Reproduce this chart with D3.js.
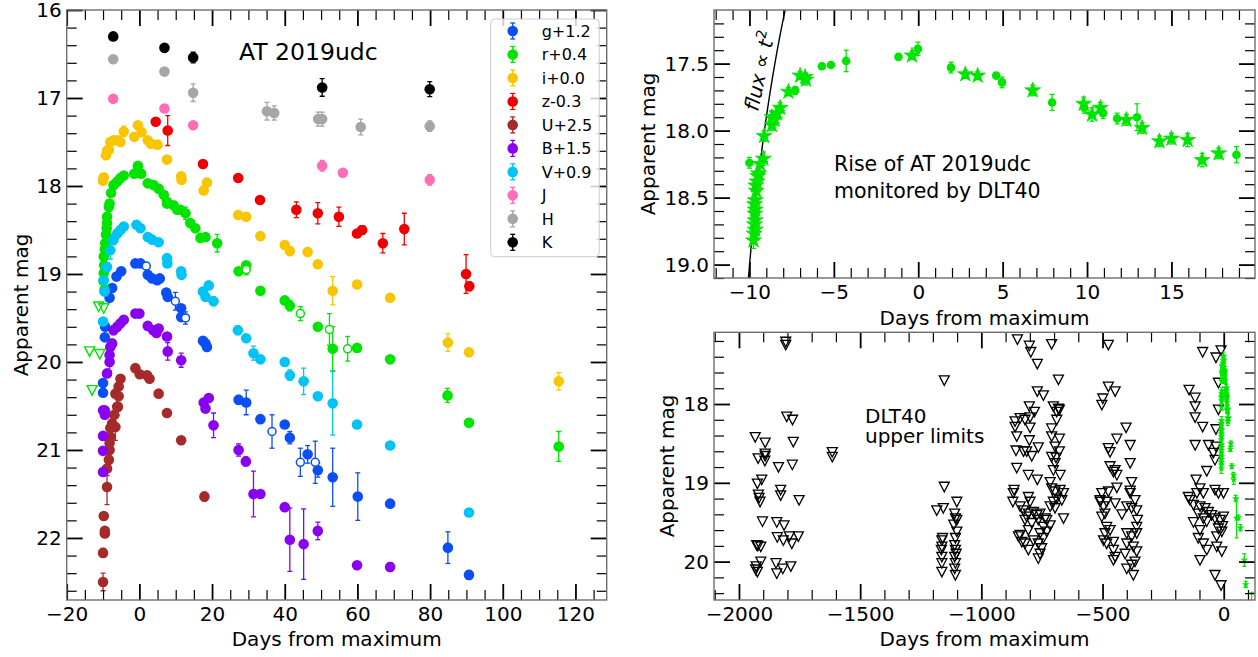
<!DOCTYPE html>
<html>
<head>
<meta charset="utf-8">
<script src="https://cdn.jsdelivr.net/npm/d3@7"></script>
<style>
  body { margin: 0; background: #fff; }
  text { font-family: "DejaVu Sans", sans-serif; }
</style>
</head>
<body>
<svg id="chart" width="1258" height="657"></svg>
<script>
// ---- data: [day, mag, err] ----
let gBand = [[-10.0,20.35,0.04],[-10.0,20.24,0.04],[-9.5,19.72,0.03],[-9.4,19.60,0.03],[-8.2,19.27,0.03],[-7.5,19.16,0.03],
  [-6.3,19.03,0.03],[-5.0,18.97,0.03],[-1.1,18.88,0.04],[0.3,18.88,0.03],[2.3,19.01,0.03],[3.5,19.05,0.03],[4.9,19.07,0.03],
  [5.6,19.05,0.03],[7.4,19.21,0.03],[7.8,19.26,0.03],[11.5,19.39,0.03],[11.5,19.49,0.04],[17.5,19.76,0.03],[18.2,19.79,0.03],
  [18.6,19.83,0.03],[27.3,20.43,0.05],[29.4,20.46,0.14],[33.3,20.65,0.03],[40.0,20.71,0.04],[41.4,20.86,0.07],[46.3,21.05,0.1],
  [49.1,21.23,0.08],[53.2,21.31,0.33],[60.1,21.53,0.27],[69.0,21.61,0.04],[84.9,22.11,0.18],[90.7,22.42,0.05]];
let gOpen = [[1.9,18.91,0.03],[9.9,19.31,0.1],[12.7,19.50,0.07],[36.5,20.79,0.19],[44.3,21.14,0.16],[48.4,21.14,0.24]];

let rBand = [[-9.6,19.18,0.03],[-9.9,19.08,0.03],[-9.8,18.99,0.03],[-9.7,18.90,0.03],[-9.8,18.80,0.03],[-9.5,18.72,0.03],
  [-9.4,18.65,0.03],[-9.2,18.55,0.03],[-9.0,18.48,0.03],[-8.9,18.42,0.03],[-8.9,18.35,0.03],[-8.4,18.24,0.03],[-8.2,18.20,0.03],
  [-7.8,18.08,0.03],[-7.1,17.99,0.03],[-6.1,17.95,0.03],[-5.2,17.91,0.03],[-4.3,17.88,0.03],[-1.4,17.86,0.03],[-0.4,17.77,0.03],
  [0.5,17.86,0.03],[2.3,17.97,0.03],[3.9,17.99,0.03],[5.3,18.03,0.03],[6.7,18.10,0.03],[7.6,18.18,0.03],[7.6,18.20,0.03],
  [9.4,18.22,0.03],[10.4,18.27,0.03],[11.3,18.27,0.03],[12.7,18.31,0.07],[14.0,18.42,0.03],[15.4,18.48,0.03],[16.8,18.59,0.03],
  [18.2,18.58,0.03],[21.4,18.65,0.1],[27.3,18.97,0.03],[29.4,18.90,0.03],[33.3,19.19,0.03],[40.0,19.30,0.03],[41.4,19.36,0.06],
  [49.1,19.60,0.04],[53.2,19.85,0.25],[59.9,19.84,0.03],[69.0,19.97,0.04],[84.8,20.38,0.08],[90.7,20.69,0.04],[115.4,20.96,0.17]];
let rOpen = [[29.4,18.95,0.06],[44.3,19.45,0.08],[52.3,19.63,0.18],[57.3,19.85,0.14]];
let rLimits = [[-11.2,19.37],[-9.8,19.39],[-13.7,19.88],[-10.9,19.91],[-13.0,20.32]];

let iBand = [[-10.0,17.94,0.03],[-9.8,17.90,0.03],[-9.2,17.65,0.03],[-8.9,17.60,0.03],[-8.4,17.59,0.03],[-8.0,17.50,0.03],
  [-7.1,17.48,0.03],[-6.0,17.48,0.03],[-5.2,17.50,0.03],[-4.3,17.38,0.06],[-1.4,17.44,0.03],[-0.4,17.31,0.03],[0.6,17.39,0.03],
  [2.3,17.48,0.03],[3.2,17.52,0.03],[5.0,17.53,0.03],[7.6,17.70,0.03],[11.5,17.89,0.03],[11.6,17.93,0.03],[17.7,18.05,0.03],
  [18.6,17.96,0.03],[27.2,18.33,0.03],[29.4,18.35,0.03],[33.3,18.57,0.03],[40.0,18.67,0.03],[41.4,18.74,0.05],[46.3,18.75,0.05],
  [49.1,18.89,0.04],[53.2,19.19,0.16],[59.9,19.12,0.03],[69.0,19.27,0.04],[84.9,19.78,0.1],[90.7,19.89,0.03],[115.4,20.22,0.1]];

let zBand = [[4.5,17.27,0.03],[7.8,17.37,0.17],[17.5,17.75,0.03],[27.2,17.91,0.02],[33.2,18.16,0.02],[43.2,18.27,0.09],
  [49.1,18.31,0.12],[54.9,18.35,0.11],[59.9,18.54,0.03],[61.3,18.50,0.05],[67.0,18.65,0.11],[72.9,18.49,0.18],[89.9,19.00,0.22],
  [90.8,19.14,0.05]];

let uBand = [[-10.0,22.50,0.1],[-10.0,22.17,0.05],[-9.5,21.95,0.04],[-9.5,21.92,0.04],[-9.8,21.75,0.03],[-8.9,21.42,0.2],
  [-8.9,21.21,0.08],[-8.4,21.11,0.05],[-8.2,21.00,0.05],[-8.2,20.92,0.05],[-8.0,20.85,0.05],[-8.0,20.75,0.05],[-7.5,20.70,0.05],
  [-6.9,20.60,0.1],[-6.6,20.74,0.15],[-5.9,20.51,0.05],[-5.2,20.19,0.03],[-5.7,20.28,0.03],[-6.6,20.36,0.03],[-5.7,20.39,0.03],
  [-6.1,20.51,0.1],[-1.1,20.07,0.03],[0.1,20.14,0.03],[2.1,20.15,0.03],[2.8,20.19,0.03],[5.3,20.36,0.03],[7.6,20.58,0.03],
  [11.5,20.89,0.03],[17.9,21.53,0.05]];

let bBand = [[-10.0,21.25,0.04],[-10.0,21.01,0.04],[-10.0,20.84,0.04],[-9.5,20.60,0.04],[-10.0,20.55,0.04],[-9.5,20.55,0.04],
  [-8.9,20.13,0.03],[-8.2,20.00,0.1],[-8.2,19.92,0.1],[-8.0,19.83,0.08],[-7.5,19.79,0.05],[-7.1,19.64,0.05],[-6.1,19.60,0.05],
  [-5.2,19.56,0.03],[-4.3,19.52,0.03],[-1.1,19.45,0.03],[0.0,19.45,0.03],[2.3,19.59,0.03],[3.8,19.64,0.03],[4.7,19.67,0.03],
  [5.3,19.62,0.03],[7.6,19.71,0.03],[7.8,19.88,0.1],[11.5,19.98,0.08],[17.7,20.46,0.03],[18.2,20.53,0.03],[19.1,20.41,0.03],
  [20.4,20.72,0.14],[27.3,21.00,0.07],[29.3,21.13,0.05],[31.4,21.50,0.26],[33.3,21.50,0.03],[40.0,21.65,0.04],[41.4,22.02,0.36],
  [45.2,22.07,0.4],[49.1,21.92,0.1],[59.9,22.31,0.03],[69.0,22.33,0.05]];

let vBand = [[-10.0,19.54,0.03],[-9.8,19.07,0.03],[-9.6,19.20,0.03],[-8.9,18.92,0.05],[-8.0,18.73,0.1],[-7.1,18.61,0.06],
  [-6.1,18.54,0.05],[-5.2,18.50,0.04],[-4.3,18.46,0.04],[-0.8,18.44,0.03],[0.3,18.48,0.03],[2.3,18.58,0.03],[3.5,18.61,0.03],
  [5.3,18.64,0.03],[7.6,18.82,0.03],[7.7,18.88,0.03],[11.5,18.97,0.03],[11.6,19.01,0.03],[17.5,19.20,0.03],[18.2,19.26,0.03],
  [19.1,19.13,0.03],[20.4,19.31,0.05],[27.1,19.64,0.05],[29.4,19.73,0.03],[31.4,19.90,0.08],[33.3,19.97,0.03],[40.0,20.00,0.03],
  [41.4,20.15,0.06],[45.2,20.22,0.15],[49.1,20.39,0.04],[53.2,20.47,0.36],[59.9,20.71,0.03],[69.0,20.95,0.04],[90.7,21.71,0.04]];

let jBand = [[-7.2,17.01,0.02],[6.9,17.12,0.04],[14.8,17.31,0.04],[50.3,17.77,0.06],[56.0,17.85,0.02],[79.9,17.93,0.06]];
let hBand = [[-7.2,16.56,0.03],[6.9,16.70,0.04],[14.8,16.94,0.1],[35.1,17.15,0.1],[37.1,17.17,0.08],[49.2,17.24,0.08],
  [50.3,17.24,0.08],[60.9,17.33,0.09],[79.9,17.32,0.06]];
let kBand = [[-7.2,16.30,0.02],[6.9,16.43,0.045],[14.8,16.54,0.06],[50.3,16.88,0.1],[79.9,16.90,0.085]];

let bandNames = ["g+1.2","r+0.4","i+0.0","z-0.3","U+2.5","B+1.5","V+0.9","J","H","K"];
let bandColors = ["#0b4ef5","#00e400","#f7c600","#ee0000","#a52a2a","#8a00f0","#00c4f5","#ff6eb4","#a6a6a6","#000000"];
let bandData = [gBand, rBand, iBand, zBand, uBand, bBand, vBand, jBand, hBand, kBand];

// DLT40 rise (top right)
let dltCircles = [[-10.0,18.24,0.04],[-7.29,17.70,0.03],[-5.71,17.52,0.02],[-5.17,17.51,0.02],[-4.27,17.48,0.08],
  [-1.17,17.45,0.02],[-0.02,17.39,0.05],[1.94,17.53,0.04],[4.62,17.59,0.02],[4.96,17.64,0.04],[7.93,17.79,0.06],
  [9.84,17.83,0.04],[10.95,17.87,0.04],[11.78,17.91,0.04],[12.96,17.90,0.1],[18.85,18.18,0.06]];
let dltStars = [[-9.76,18.82,0.06],[-9.72,18.77,0.05],[-9.66,18.74,0.05],[-9.7,18.70,0.05],[-9.66,18.67,0.05],
  [-9.68,18.62,0.05],[-9.66,18.59,0.05],[-9.7,18.55,0.05],[-9.66,18.52,0.05],[-9.6,18.45,0.05],[-9.62,18.41,0.05],
  [-9.56,18.38,0.05],[-9.5,18.34,0.05],[-9.46,18.32,0.05],[-9.37,18.25,0.05],[-9.17,18.21,0.05],[-9.13,18.04,0.04],
  [-8.67,17.96,0.04],[-8.67,17.90,0.04],[-8.5,17.92,0.04],[-8.37,17.87,0.04],[-8.18,17.83,0.04],[-7.69,17.71,0.03],
  [-7.0,17.59,0.03],[-6.7,17.60,0.03],[-6.66,17.62,0.04],[-0.37,17.44,0.03],[2.79,17.58,0.03],[3.52,17.59,0.03],
  [6.78,17.70,0.04],[9.8,17.80,0.05],[10.3,17.88,0.05],[10.79,17.83,0.04],[12.33,17.92,0.04],[13.26,17.98,0.04],
  [14.29,18.08,0.04],[15.0,18.06,0.04],[15.96,18.07,0.05],[16.82,18.22,0.05],[17.80,18.17,0.04]];

// flux ~ t^2 model: mag = FIT_M0 - 5 log10(t - FIT_T0)
let FIT_T0 = -11.5;
let FIT_M0 = 19.89;
let R_OFFSET = 0.4;

// DLT40 upper limits (bottom right): [day, mag]
let dltLimits = [
  [-1807,17.21],[-1807,17.25],[-1803,18.16],[-1779,18.20],[-1933,18.42],[-1892,18.49],[-1776,18.48],[-1892,18.63],
  [-1892,18.66],[-1921,18.69],[-1893,18.72],[-1837,18.80],[-1780,18.77],[-1906,18.96],[-1924,19.01],[-1828,19.09],
  [-1828,19.16],[-1920,19.15],[-1913,19.24],[-1917,19.19],[-1752,19.22],[-1903,19.49],[-1844,19.50],[-1814,19.54],
  [-1842,19.69],[-1817,19.73],[-1792,19.68],[-1782,19.77],[-1755,19.68],[-1927,19.79],[-1910,19.81],[-1922,19.80],
  [-1910,20.0],[-1929,20.06],[-1924,20.13],[-1847,20.02],[-1844,20.15],[-1819,20.09],[-1786,20.06],[-1931,20.10],
  [-1615,18.61],[-1615,18.67],
  [-1153,17.70],[-1153,19.05],[-1184,19.35],[-1157,19.32],[-1163,19.73],[-1163,19.81],[-1163,19.94],[-1163,20.02],
  [-1163,20.13],[-1160,19.70],[-1165,19.85],[-1101,19.24],[-1110,19.39],[-1107,19.45],[-1101,19.47],[-1101,19.62],
  [-1107,19.70],[-1110,19.79],[-1107,19.85],[-1110,19.94],[-1107,20.02],[-1110,20.09],[-1107,20.17],[-1114,19.53],[-1104,19.90],
  [-851,17.18],[-802,17.26],[-796,17.34],[-710,17.24],[-769,17.49],[-682,17.69],[-769,17.84],[-744,17.89],[-802,18.03],
  [-781,18.10],[-703,18.03],[-682,18.06],[-689,18.10],[-678,18.07],[-861,18.22],[-840,18.18],[-820,18.20],[-799,18.17],
  [-861,18.29],[-799,18.30],[-710,18.31],[-689,18.20],[-854,18.41],[-678,18.44],[-802,18.46],[-710,18.41],[-765,18.55],
  [-857,18.59],[-826,18.60],[-792,18.66],[-813,18.60],[-696,18.54],[-678,18.60],[-692,18.68],[-710,18.67],[-696,18.75],
  [-703,18.84],[-675,18.90],[-854,18.81],[-806,18.90],[-769,18.96],[-865,19.09],[-868,19.13],[-806,19.18],[-799,19.24],
  [-870,19.24],[-840,19.30],[-826,19.35],[-813,19.43],[-820,19.47],[-806,19.39],[-785,19.37],[-771,19.41],[-758,19.39],
  [-765,19.47],[-792,19.51],[-716,18.99],[-710,19.07],[-696,19.11],[-675,19.09],[-661,19.13],[-689,19.20],[-668,19.22],
  [-703,19.24],[-716,19.30],[-696,19.32],[-737,19.45],[-716,19.54],[-730,19.47],[-847,19.68],[-833,19.75],[-820,19.77],
  [-806,19.85],[-785,19.73],[-765,19.77],[-751,19.83],[-758,19.90],[-765,19.96],[-806,19.60],[-758,19.64],[-744,19.70],
  [-661,19.45],[-730,19.62],[-744,19.56],[-840,19.66],
  [-476,17.25],[-476,17.78],[-448,17.84],[-499,17.93],[-503,18.01],[-403,18.30],[-441,18.44],[-386,18.52],[-476,18.56],
  [-469,18.61],[-386,18.75],[-469,18.79],[-455,18.86],[-441,18.90],[-448,18.84],[-380,18.99],[-441,19.06],[-386,19.10],
  [-503,19.13],[-476,19.11],[-510,19.22],[-483,19.24],[-448,19.26],[-386,19.13],[-366,19.22],[-359,19.35],[-400,19.30],
  [-380,19.32],[-496,19.30],[-490,19.39],[-503,19.43],[-510,19.24],[-483,19.56],[-490,19.64],[-469,19.60],[-496,19.73],
  [-483,19.77],[-455,19.75],[-455,19.85],[-448,19.94],[-455,19.98],[-400,19.64],[-380,19.68],[-359,19.64],[-400,19.77],
  [-373,19.81],[-359,19.87],[-407,19.90],[-366,20.0],[-380,20.04],[-400,20.09],[-373,20.17],[-359,19.56],[-356,19.47],[-420,19.40],
  [-87,17.34],[-32,17.41],[-11,17.32],[-22,17.73],[-143,17.82],[-118,17.92],[-118,18.03],[-22,18.07],[-118,18.17],
  [-87,18.29],[-32,18.32],[-118,18.52],[-63,18.52],[-32,18.54],[-43,18.62],[-36,18.71],[-70,18.85],[-114,18.96],
  [-98,19.07],[-84,19.13],[-146,19.18],[-111,19.13],[-36,19.09],[-22,19.13],[-1,19.13],[-139,19.22],[-125,19.28],
  [-98,19.30],[-77,19.32],[-63,19.37],[-105,19.39],[-84,19.45],[-70,19.49],[-50,19.41],[-36,19.45],[-15,19.47],
  [-1,19.43],[-22,19.58],[-8,19.62],[-29,19.68],[-98,19.60],[-105,19.70],[-84,19.77],[-70,19.85],[-29,19.81],
  [-8,19.87],[-98,19.98],[-36,20.17],[-11,20.30],[-125,19.50],[-5,19.55]];

// ---- layout ----
let svg = d3.select("#chart");
svg.append("rect").attr("width", 1258).attr("height", 657).attr("fill", "#fff");

let xLeft = d3.scaleLinear().domain([-20, 128.6]).range([66.7, 606.7]);
let yLeft = d3.scaleLinear().domain([16, 22.705]).range([10, 600]);
let xRise = d3.scaleLinear().domain([-12.1, 19.95]).range([714, 1255]);
let yRise = d3.scaleLinear().domain([17.1, 19.1]).range([10, 278]);
let xLim = d3.scaleLinear().domain([-2103, 129]).range([714, 1255]);
let yLim = d3.scaleLinear().domain([17.09, 20.487]).range([332.3, 600]);

let clipId = 0;
let makeClip = (x, y) => {
  let id = "clip" + (clipId++);
  svg.append("clipPath").attr("id", id).append("rect")
    .attr("x", x.range()[0]).attr("y", y.range()[0])
    .attr("width", x.range()[1] - x.range()[0]).attr("height", y.range()[1] - y.range()[0]);
  return svg.append("g").attr("clip-path", `url(#${id})`);
};

let drawAxes = (x, y, xt, yt, fmtX, fmtY) => {
  let [l, r] = x.range();
  let [t, b] = y.range();
  let g = svg.append("g");
  let add = (axis, tr, w) => {
    let a = g.append("g").attr("transform", tr).call(axis);
    a.select(".domain").remove();
    a.selectAll(".tick line").attr("stroke", "#000").attr("stroke-width", w);
    a.selectAll("text").attr("font-size", 20).attr("font-family", "DejaVu Sans").attr("fill", "#000");
    return a;
  };
  let minorX = xt.minor.filter(v => !xt.major.includes(v));
  let minorY = yt.minor.filter(v => !yt.major.includes(v));
  add(d3.axisBottom(x).tickValues(xt.major).tickSize(-16).tickPadding(7).tickFormat(fmtX), `translate(0,${b})`, 1.8);
  add(d3.axisBottom(x).tickValues(minorX).tickSize(-10).tickFormat(""), `translate(0,${b})`, 1.2);
  add(d3.axisTop(x).tickValues(xt.major).tickSize(-16).tickFormat(""), `translate(0,${t})`, 1.8);
  add(d3.axisTop(x).tickValues(minorX).tickSize(-10).tickFormat(""), `translate(0,${t})`, 1.2);
  add(d3.axisLeft(y).tickValues(yt.major).tickSize(-16).tickPadding(5).tickFormat(fmtY), `translate(${l},0)`, 1.8);
  add(d3.axisLeft(y).tickValues(minorY).tickSize(-10).tickFormat(""), `translate(${l},0)`, 1.2);
  add(d3.axisRight(y).tickValues(yt.major).tickSize(-16).tickFormat(""), `translate(${r},0)`, 1.8);
  add(d3.axisRight(y).tickValues(minorY).tickSize(-10).tickFormat(""), `translate(${r},0)`, 1.2);
  g.append("rect").attr("x", l).attr("y", t).attr("width", r - l).attr("height", b - t)
    .attr("fill", "none").attr("stroke", "#6e6e6e").attr("stroke-width", 1.4);
};

let drawErr = (g, data, x, y, color, cap, w) => {
  let e = data.filter(d => d[2] > 0);
  g.selectAll(null).data(e).enter().append("line")
    .attr("x1", d => x(d[0])).attr("x2", d => x(d[0]))
    .attr("y1", d => y(d[1] - d[2])).attr("y2", d => y(d[1] + d[2]))
    .attr("stroke", color).attr("stroke-width", w);
  [-1, 1].forEach(s => {
    g.selectAll(null).data(e).enter().append("line")
      .attr("x1", d => x(d[0]) - cap).attr("x2", d => x(d[0]) + cap)
      .attr("y1", d => y(d[1] + s * d[2])).attr("y2", d => y(d[1] + s * d[2]))
      .attr("stroke", color).attr("stroke-width", w);
  });
};

let triPath = "M-5,-4.5L5,-4.5L0,5Z";
let fmtInt = d3.format("d");

// ---- left panel: multi-band light curve ----
let leftG = makeClip(xLeft, yLeft);
bandData.forEach((data, i) => {
  let col = bandColors[i];
  drawErr(leftG, data, xLeft, yLeft, col, 2.5, 1.3);
  leftG.selectAll(null).data(data).enter().append("circle")
    .attr("cx", d => xLeft(d[0])).attr("cy", d => yLeft(d[1])).attr("r", 5.3).attr("fill", col);
  if (i === 0 || i === 1) {
    let open = i === 0 ? gOpen : rOpen;
    drawErr(leftG, open, xLeft, yLeft, col, 2.5, 1.3);
    leftG.selectAll(null).data(open).enter().append("circle")
      .attr("cx", d => xLeft(d[0])).attr("cy", d => yLeft(d[1])).attr("r", 4)
      .attr("fill", "#fff").attr("stroke", col).attr("stroke-width", 1.5);
  }
  if (i === 1) {
    leftG.selectAll(null).data(rLimits).enter().append("path")
      .attr("d", triPath).attr("transform", d => `translate(${xLeft(d[0])},${yLeft(d[1])})`)
      .attr("fill", "none").attr("stroke", col).attr("stroke-width", 1.4);
  }
});

drawAxes(xLeft, yLeft,
  {major: d3.range(-20, 121, 20), minor: d3.range(-20, 129, 5)},
  {major: d3.range(16, 23, 1), minor: d3.range(80, 114).map(v => v / 5)},
  d3.format("d"), fmtInt);

svg.append("text").attr("x", 239).attr("y", 60).attr("font-size", 23.5).text("AT 2019udc");

// legend
let leg = svg.append("g");
leg.append("rect").attr("x", 490.7).attr("y", 19).attr("width", 108.6).attr("height", 237.7).attr("rx", 4)
  .attr("fill", "#fff").attr("fill-opacity", 0.8).attr("stroke", "#cccccc").attr("stroke-width", 1);
bandNames.forEach((name, i) => {
  let cy = 31 + i * 23.48;
  let col = bandColors[i];
  leg.append("line").attr("x1", 512.7).attr("x2", 512.7).attr("y1", cy - 8).attr("y2", cy + 8)
    .attr("stroke", col).attr("stroke-width", 1.3);
  [-8, 8].forEach(o => leg.append("line").attr("x1", 510.2).attr("x2", 515.2).attr("y1", cy + o).attr("y2", cy + o)
    .attr("stroke", col).attr("stroke-width", 1.3));
  leg.append("circle").attr("cx", 512.7).attr("cy", cy).attr("r", 5.3).attr("fill", col);
  leg.append("text").attr("x", 541.7).attr("y", cy + 5.8).attr("font-size", 16).text(name);
});

svg.append("text").attr("x", 336.7).attr("y", 646).attr("font-size", 20).attr("text-anchor", "middle").text("Days from maximum");
svg.append("text").attr("transform", "translate(28,305) rotate(-90)").attr("font-size", 20)
  .attr("text-anchor", "middle").text("Apparent mag");

// ---- top right: rise ----
let riseG = makeClip(xRise, yRise);
let fitLine = d3.line().x(d => xRise(d[0])).y(d => yRise(d[1]));
riseG.append("path")
  .attr("d", fitLine(d3.range(-10.5, -7.4, 0.02).map(t => [t, FIT_M0 - 5 * Math.log10(t - FIT_T0)])))
  .attr("fill", "none").attr("stroke", "#000").attr("stroke-width", 1.4);
let green = "#00e400";
drawErr(riseG, dltCircles, xRise, yRise, green, 2.5, 1.3);
drawErr(riseG, dltStars, xRise, yRise, green, 2.5, 1.3);
riseG.selectAll(null).data(dltCircles).enter().append("circle")
  .attr("cx", d => xRise(d[0])).attr("cy", d => yRise(d[1])).attr("r", 4.3).attr("fill", green);
let star = d3.symbol(d3.symbolStar, 78);
riseG.selectAll(null).data(dltStars).enter().append("path")
  .attr("d", star).attr("transform", d => `translate(${xRise(d[0])},${yRise(d[1])})`)
  .attr("fill", green).attr("stroke", green).attr("stroke-width", 0.8).attr("stroke-linejoin", "round");

drawAxes(xRise, yRise,
  {major: d3.range(-10, 16, 5), minor: d3.range(-12, 20, 1)},
  {major: [17.5, 18.0, 18.5, 19.0], minor: d3.range(172, 192).map(v => v / 10)},
  d3.format("d"), d3.format(".1f"));

let fluxText = svg.append("text").attr("transform", "translate(758,112) rotate(-78)").attr("font-size", 20);
fluxText.append("tspan").attr("font-style", "italic").text("flux");
fluxText.append("tspan").text(" ∝ ");
fluxText.append("tspan").attr("font-style", "italic").text("t");
fluxText.append("tspan").attr("font-size", 14).attr("dy", -8).text("2");

svg.append("text").attr("x", 834).attr("y", 171).attr("font-size", 20.5).text("Rise of AT 2019udc");
svg.append("text").attr("x", 834).attr("y", 198).attr("font-size", 20.5).text("monitored by DLT40");
svg.append("text").attr("x", 984.5).attr("y", 325).attr("font-size", 20).attr("text-anchor", "middle").text("Days from maximum");
svg.append("text").attr("transform", "translate(655,144) rotate(-90)").attr("font-size", 20)
  .attr("text-anchor", "middle").text("Apparent mag");

// ---- bottom right: upper limits ----
let limG = makeClip(xLim, yLim);
limG.selectAll(null).data(dltLimits).enter().append("path")
  .attr("d", triPath).attr("transform", d => `translate(${xLim(d[0])},${yLim(d[1])})`)
  .attr("fill", "none").attr("stroke", "#000").attr("stroke-width", 1.3);
let lateR = rBand.filter(d => d[0] > 25).map(d => [d[0], d[1] - R_OFFSET, d[2]]);
let detections = dltCircles.concat(dltStars, lateR);
drawErr(limG, detections, xLim, yLim, green, 2, 1.2);
let smallStar = d3.symbol(d3.symbolStar, 18);
limG.selectAll(null).data(detections).enter().append("path")
  .attr("d", smallStar).attr("transform", d => `translate(${xLim(d[0])},${yLim(d[1])})`).attr("fill", green);

drawAxes(xLim, yLim,
  {major: d3.range(-2000, 1, 500), minor: d3.range(-2100, 130, 100)},
  {major: [18, 19, 20], minor: d3.range(86, 103).map(v => v / 5)},
  d3.format("d"), fmtInt);

svg.append("text").attr("x", 865).attr("y", 423).attr("font-size", 20).text("DLT40");
svg.append("text").attr("x", 865).attr("y", 443).attr("font-size", 20).text("upper limits");
svg.append("text").attr("x", 984.5).attr("y", 646).attr("font-size", 20).attr("text-anchor", "middle").text("Days from maximum");
svg.append("text").attr("transform", "translate(674,466) rotate(-90)").attr("font-size", 20)
  .attr("text-anchor", "middle").text("Apparent mag");
</script>
</body>
</html>
